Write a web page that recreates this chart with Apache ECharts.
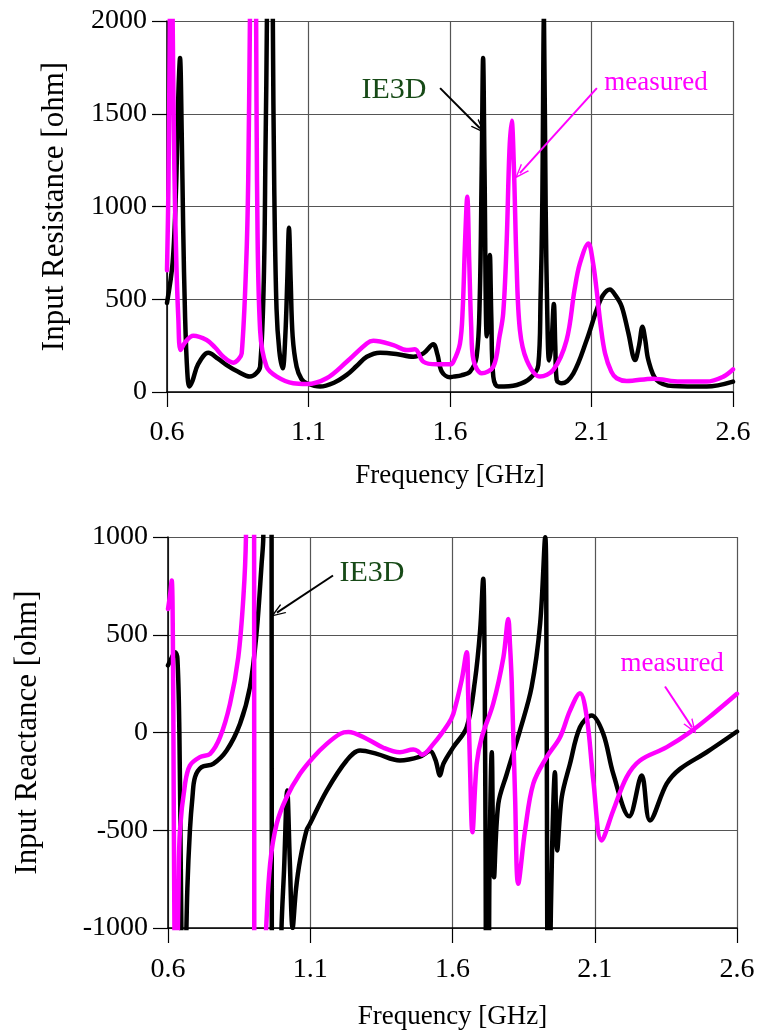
<!DOCTYPE html>
<html>
<head>
<meta charset="utf-8">
<script src="https://cdn.jsdelivr.net/npm/echarts@6.0.0/dist/echarts.min.js"></script>
<style>
  html, body { margin: 0; padding: 0; background: #fff; }
  #chart { width: 760px; height: 1032px; }
</style>
</head>
<body>
<div id="chart"></div>
<script>
// tick labels
const freqTicks = [0.6, 1.1, 1.6, 2.1, 2.6];
const resTicks = [0, 500, 1000, 1500, 2000];
const reacTicks = [-1000, -500, 0, 500, 1000];

// input resistance, IE3D  [GHz, ohm]
const resIe3d = [
  [0.600, 480], [0.620, 700], [0.632, 1100], [0.640, 1600], [0.646, 1800], [0.652, 1400],
  [0.657, 900], [0.664, 400], [0.672, 100], [0.679, 30], [0.690, 60], [0.710, 150],
  [0.746, 212], [0.780, 180], [0.811, 145], [0.850, 110], [0.893, 83], [0.915, 100],
  [0.929, 136], [0.942, 600], [0.948, 1300], [0.953, 2000], [0.963, 5000], [0.974, 2000],
  [0.979, 1100], [0.987, 450], [0.997, 220], [1.009, 128], [1.018, 300], [1.025, 600],
  [1.031, 885], [1.037, 600], [1.044, 300], [1.058, 136], [1.075, 70], [1.094, 47],
  [1.141, 29], [1.190, 50], [1.235, 92], [1.270, 140], [1.306, 190], [1.353, 212],
  [1.410, 205], [1.470, 190], [1.506, 208], [1.541, 257], [1.556, 200], [1.571, 110],
  [1.600, 79], [1.612, 83], [1.640, 90], [1.671, 110], [1.694, 190], [1.705, 500],
  [1.712, 1200], [1.717, 1800], [1.722, 1200], [1.730, 300], [1.736, 400], [1.741, 738],
  [1.746, 400], [1.753, 83], [1.771, 29], [1.836, 38], [1.883, 74], [1.912, 145],
  [1.920, 500], [1.926, 1000], [1.932, 2030], [1.938, 1000], [1.944, 400], [1.950, 170],
  [1.958, 250], [1.967, 474], [1.972, 250], [1.977, 65], [1.995, 47], [2.036, 101],
  [2.083, 280], [2.118, 442], [2.140, 520], [2.165, 553], [2.185, 520], [2.207, 460],
  [2.230, 320], [2.254, 172], [2.268, 250], [2.280, 352], [2.290, 280], [2.301, 172],
  [2.330, 65], [2.389, 32], [2.507, 29], [2.600, 56]
];

// input resistance, measured
const resMeas = [
  [0.600, 657], [0.605, 1100], [0.610, 2000], [0.615, 3000], [0.620, 2000], [0.626, 1200],
  [0.633, 700], [0.640, 400], [0.648, 226], [0.665, 270], [0.693, 303], [0.740, 280],
  [0.770, 240], [0.799, 190], [0.834, 158], [0.852, 175], [0.864, 208], [0.880, 700],
  [0.887, 1142], [0.893, 2000], [0.904, 3500], [0.915, 2000], [0.918, 1142], [0.929, 334],
  [0.952, 136], [0.988, 83], [1.046, 47], [1.094, 43], [1.164, 74], [1.235, 163],
  [1.306, 262], [1.329, 276], [1.400, 253], [1.447, 226], [1.476, 230], [1.506, 163],
  [1.553, 149], [1.600, 149], [1.612, 163], [1.635, 260], [1.645, 450], [1.653, 800],
  [1.661, 1052], [1.668, 700], [1.675, 350], [1.683, 172], [1.712, 101], [1.753, 136],
  [1.775, 300], [1.788, 424], [1.800, 800], [1.810, 1300], [1.818, 1462], [1.826, 1200],
  [1.835, 700], [1.847, 334], [1.871, 172], [1.918, 83], [1.965, 119], [2.012, 280],
  [2.040, 550], [2.059, 693], [2.089, 801], [2.105, 700], [2.118, 550], [2.133, 350],
  [2.148, 208], [2.170, 110], [2.189, 74], [2.224, 59], [2.318, 72], [2.413, 56],
  [2.507, 56], [2.566, 83], [2.600, 122]
];

// input reactance, IE3D
const reacIe3d = [
  [0.600, 343], [0.612, 380], [0.625, 411], [0.633, 380], [0.640, 0], [0.645, -700],
  [0.650, -1300], [0.656, -1500], [0.662, -1200], [0.668, -800], [0.677, -501], [0.686, -330],
  [0.695, -228], [0.718, -177], [0.759, -160], [0.806, -92], [0.853, 44], [0.888, 232],
  [0.912, 521], [0.929, 862], [0.935, 1000], [0.945, 2500], [0.955, 4000], [0.963, 4000],
  [0.966, -4000], [0.985, -2000], [0.999, -1000], [1.008, -700], [1.019, -297], [1.028, -650],
  [1.038, -1000], [1.050, -800], [1.064, -654], [1.087, -500], [1.099, -467], [1.158, -297],
  [1.228, -143], [1.275, -92], [1.334, -109], [1.415, -143], [1.486, -123], [1.521, -95],
  [1.540, -140], [1.556, -220], [1.568, -160], [1.603, -75], [1.650, 27], [1.679, 266],
  [1.697, 521], [1.708, 786], [1.712, 500], [1.716, -500], [1.720, -1500], [1.726, -1500],
  [1.730, -700], [1.738, -101], [1.746, -740], [1.761, -365], [1.791, -211], [1.837, 10],
  [1.878, 232], [1.908, 556], [1.926, 999], [1.930, 500], [1.933, -1000], [1.936, -2000],
  [1.943, -1200], [1.950, -600], [1.960, -203], [1.968, -603], [1.984, -331], [2.013, -160],
  [2.048, 27], [2.089, 87], [2.130, -7], [2.165, -211], [2.221, -429], [2.265, -220],
  [2.294, -450], [2.353, -262], [2.400, -186], [2.493, -101], [2.600, 5]
];

// input reactance, measured
const reacMeas = [
  [0.600, 632], [0.607, 700], [0.613, 777], [0.617, 500], [0.620, -300], [0.623, -1100],
  [0.628, -2000], [0.633, -1200], [0.637, -800], [0.642, -501], [0.660, -262], [0.677, -169],
  [0.712, -126], [0.748, -109], [0.783, -24], [0.818, 147], [0.847, 385], [0.865, 692],
  [0.874, 999], [0.880, 2000], [0.890, 4000], [0.902, 4000], [0.904, -4000], [0.915, -3000],
  [0.930, -1500], [0.945, -1000], [0.959, -671], [0.982, -467], [1.017, -331], [1.064, -211],
  [1.111, -126], [1.158, -58], [1.205, -7], [1.234, 2], [1.298, -32], [1.357, -78],
  [1.415, -101], [1.462, -87], [1.478, -95], [1.492, -114], [1.533, -58], [1.585, 44],
  [1.603, 96], [1.632, 266], [1.650, 411], [1.655, 200], [1.662, -200], [1.670, -510],
  [1.685, -160], [1.703, -24], [1.743, 147], [1.779, 385], [1.796, 581], [1.802, 450],
  [1.808, 266], [1.820, -331], [1.831, -774], [1.855, -501], [1.884, -262], [1.931, -126],
  [1.978, -24], [2.013, 112], [2.048, 201], [2.072, 78], [2.095, -245], [2.124, -552],
  [2.165, -399], [2.212, -228], [2.259, -143], [2.353, -75], [2.435, 2], [2.517, 96],
  [2.600, 198]
];

const FONT = '"Liberation Serif", "Times New Roman", serif';
const IE3D_GREEN = '#174a17';
const MAGENTA = '#ff00ff';
// open arrow head
const ARROW = 'path://M0,14 L6,0 L12,14 L10.4,14 L6,3.6 L1.6,14 Z';

const chart = echarts.init(document.getElementById('chart'));

function xAxisOpt(gridIndex, labelMargin, nameGap) {
  return {
    type: 'value',
    gridIndex: gridIndex,
    min: freqTicks[0],
    max: freqTicks[freqTicks.length - 1],
    interval: 0.5,
    name: 'Frequency [GHz]',
    nameLocation: 'middle',
    nameGap: nameGap,
    nameTextStyle: { fontFamily: FONT, fontSize: 27, color: '#000' },
    axisLine: { show: true, onZero: false, lineStyle: { color: '#000', width: 1.5 } },
    axisTick: { show: true, inside: false, length: 15, lineStyle: { color: '#000', width: 1.2 } },
    axisLabel: {
      margin: labelMargin,
      fontFamily: FONT, fontSize: 28, color: '#000',
      formatter: v => v.toFixed(1)
    },
    splitLine: { show: true, lineStyle: { color: '#555', width: 1.2 } }
  };
}

function yAxisOpt(gridIndex, ticks, name, nameGap) {
  return {
    type: 'value',
    gridIndex: gridIndex,
    min: ticks[0],
    max: ticks[ticks.length - 1],
    interval: 500,
    name: name,
    nameLocation: 'middle',
    nameGap: nameGap,
    nameTextStyle: { fontFamily: FONT, fontSize: 31, color: '#000' },
    axisLine: { show: true, onZero: false, lineStyle: { color: '#000', width: 1.5 } },
    axisTick: { show: true, inside: false, length: 15, lineStyle: { color: '#000', width: 1.2 } },
    axisLabel: {
      margin: 20, fontFamily: FONT, fontSize: 28, color: '#000',
      formatter: v => String(v)
    },
    splitLine: { show: true, lineStyle: { color: '#555', width: 1.2 } }
  };
}

function arrow(from, to, color) {
  return {
    silent: true,
    symbol: ['none', ARROW],
    symbolSize: [11, 15],
    label: { show: false },
    lineStyle: { color: color, width: 2, type: 'solid' },
    emphasis: { disabled: true },
    data: [[{ coord: from }, { coord: to }]]
  };
}

function tag(coord, text, color, size) {
  return {
    silent: true,
    symbol: 'rect',
    symbolSize: 1,
    itemStyle: { color: 'rgba(0,0,0,0)' },
    label: {
      show: true, position: 'inside', formatter: text,
      fontFamily: FONT, fontSize: size, color: color
    },
    data: [{ coord: coord }]
  };
}

function lineSeries(name, data, color, xi, yi, extra) {
  return Object.assign({
    name: name,
    type: 'line',
    xAxisIndex: xi,
    yAxisIndex: yi,
    data: data,
    showSymbol: false,
    symbol: 'none',
    smooth: 0.35,
    clip: true,
    lineStyle: { color: color, width: 4.5, join: 'round', cap: 'round' },
    itemStyle: { color: color },
    z: color === MAGENTA ? 3 : 2
  }, extra || {});
}

const option = {
  animation: false,
  backgroundColor: '#fff',
  grid: [
    { left: 167, top: 21, width: 566, height: 371 },
    { left: 168, top: 537, width: 569, height: 391 }
  ],
  xAxis: [xAxisOpt(0, 27, 70), xAxisOpt(1, 28, 75)],
  yAxis: [
    yAxisOpt(0, resTicks, 'Input Resistance [ohm]', 97),
    yAxisOpt(1, reacTicks, 'Input Reactance [ohm]', 125)
  ],
  series: [
    lineSeries('IE3D', resIe3d, '#000', 0, 0, {
      markLine: arrow([1.565, 1638], [1.706, 1422], '#000'),
      markPoint: tag([1.402, 1627], 'IE3D', IE3D_GREEN, 30)
    }),
    lineSeries('measured', resMeas, MAGENTA, 0, 0, {
      markLine: arrow([2.119, 1638], [1.847, 1180], MAGENTA),
      markPoint: tag([2.328, 1665], 'measured', MAGENTA, 27)
    }),
    lineSeries('IE3D', reacIe3d, '#000', 1, 1, {
      markLine: arrow([1.18, 803], [0.983, 613], '#000'),
      markPoint: tag([1.317, 813], 'IE3D', IE3D_GREEN, 30)
    }),
    lineSeries('measured', reacMeas, MAGENTA, 1, 1, {
      markLine: arrow([2.347, 235], [2.442, 26], MAGENTA),
      markPoint: tag([2.372, 353], 'measured', MAGENTA, 27)
    })
  ]
};

chart.setOption(option);
</script>
</body>
</html>
